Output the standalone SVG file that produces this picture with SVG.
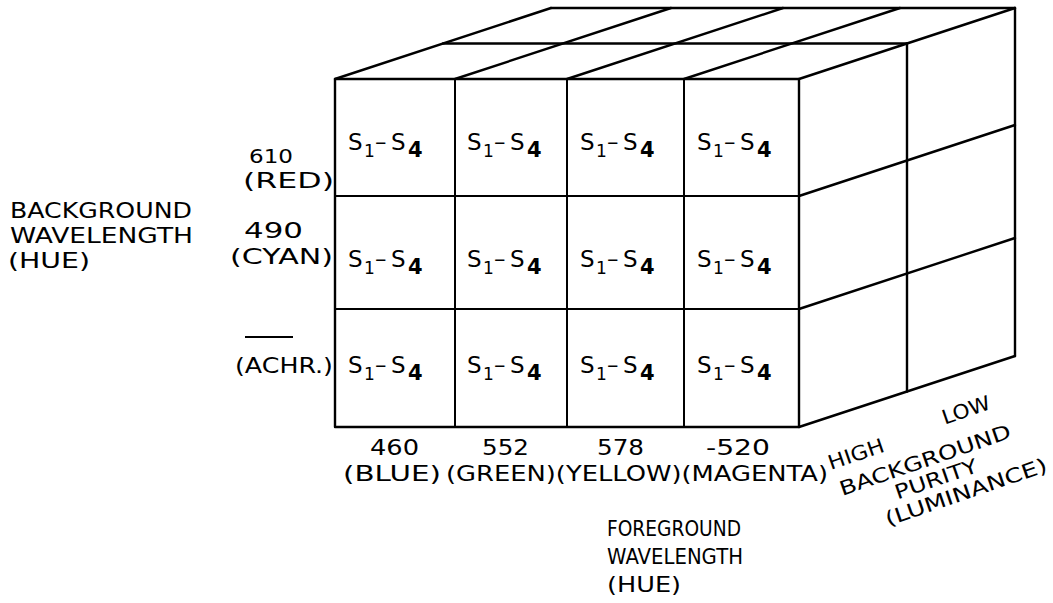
<svg xmlns="http://www.w3.org/2000/svg" width="1053" height="603" viewBox="0 0 1053 603">
  <style>
    .edge { stroke: #000; stroke-width: 2.4; fill: none; stroke-linecap: round; stroke-linejoin: round; }
    .cell { stroke: #000; stroke-width: 2; fill: none; }
    .lbl { font-family: "DejaVu Sans", "Liberation Sans", sans-serif; font-size: 22px; fill: #000; }
    .sm { font-size: 20px; }
    .s { font-family: "DejaVu Sans", "Liberation Sans", sans-serif; font-size: 23px; fill: #000; }
    .sub1 { font-size: 17px; }
    .sub4 { font-size: 21px; font-weight: bold; }
  </style>

  <rect width="1053" height="603" fill="#fff"/>

  <!-- top face of the block -->
  <g id="top-face" class="edge">
    <line x1="551" y1="8" x2="1015" y2="8"/>
    <line x1="443" y1="43.5" x2="907" y2="43.5"/>
    <line x1="335" y1="79" x2="551" y2="8"/>
    <line x1="455" y1="79" x2="671" y2="8"/>
    <line x1="567" y1="79" x2="783" y2="8"/>
    <line x1="684" y1="79" x2="900" y2="8"/>
    <line x1="799" y1="79" x2="1015" y2="8"/>
  </g>

  <!-- right face: purity levels -->
  <g id="side-face" class="edge">
    <line x1="907" y1="43.5" x2="907" y2="391.5"/>
    <line x1="1015" y1="8" x2="1015" y2="356"/>
    <line x1="799" y1="196" x2="1015" y2="125"/>
    <line x1="799" y1="309" x2="1015" y2="238"/>
    <line x1="799" y1="427" x2="1015" y2="356"/>
  </g>

  <!-- front face cells -->
  <g id="cell-r1-c1"><rect class="cell" x="335" y="79" width="120" height="117"/>
    <text class="s" y="150"><tspan x="348">S</tspan><tspan class="sub1" x="364" dy="7">1</tspan><tspan x="375" dy="-7">–</tspan><tspan x="391">S</tspan><tspan class="sub4" x="408" dy="7">4</tspan></text></g>
  <g id="cell-r1-c2"><rect class="cell" x="455" y="79" width="112" height="117"/>
    <text class="s" y="150"><tspan x="467">S</tspan><tspan class="sub1" x="483" dy="7">1</tspan><tspan x="494" dy="-7">–</tspan><tspan x="510">S</tspan><tspan class="sub4" x="527" dy="7">4</tspan></text></g>
  <g id="cell-r1-c3"><rect class="cell" x="567" y="79" width="117" height="117"/>
    <text class="s" y="150"><tspan x="580">S</tspan><tspan class="sub1" x="596" dy="7">1</tspan><tspan x="607" dy="-7">–</tspan><tspan x="623">S</tspan><tspan class="sub4" x="640" dy="7">4</tspan></text></g>
  <g id="cell-r1-c4"><rect class="cell" x="684" y="79" width="115" height="117"/>
    <text class="s" y="150"><tspan x="697">S</tspan><tspan class="sub1" x="713" dy="7">1</tspan><tspan x="724" dy="-7">–</tspan><tspan x="740">S</tspan><tspan class="sub4" x="757" dy="7">4</tspan></text></g>

  <g id="cell-r2-c1"><rect class="cell" x="335" y="196" width="120" height="113"/>
    <text class="s" y="267"><tspan x="348">S</tspan><tspan class="sub1" x="364" dy="7">1</tspan><tspan x="375" dy="-7">–</tspan><tspan x="391">S</tspan><tspan class="sub4" x="408" dy="7">4</tspan></text></g>
  <g id="cell-r2-c2"><rect class="cell" x="455" y="196" width="112" height="113"/>
    <text class="s" y="267"><tspan x="467">S</tspan><tspan class="sub1" x="483" dy="7">1</tspan><tspan x="494" dy="-7">–</tspan><tspan x="510">S</tspan><tspan class="sub4" x="527" dy="7">4</tspan></text></g>
  <g id="cell-r2-c3"><rect class="cell" x="567" y="196" width="117" height="113"/>
    <text class="s" y="267"><tspan x="580">S</tspan><tspan class="sub1" x="596" dy="7">1</tspan><tspan x="607" dy="-7">–</tspan><tspan x="623">S</tspan><tspan class="sub4" x="640" dy="7">4</tspan></text></g>
  <g id="cell-r2-c4"><rect class="cell" x="684" y="196" width="115" height="113"/>
    <text class="s" y="267"><tspan x="697">S</tspan><tspan class="sub1" x="713" dy="7">1</tspan><tspan x="724" dy="-7">–</tspan><tspan x="740">S</tspan><tspan class="sub4" x="757" dy="7">4</tspan></text></g>

  <g id="cell-r3-c1"><rect class="cell" x="335" y="309" width="120" height="118"/>
    <text class="s" y="373"><tspan x="348">S</tspan><tspan class="sub1" x="364" dy="7">1</tspan><tspan x="375" dy="-7">–</tspan><tspan x="391">S</tspan><tspan class="sub4" x="408" dy="7">4</tspan></text></g>
  <g id="cell-r3-c2"><rect class="cell" x="455" y="309" width="112" height="118"/>
    <text class="s" y="373"><tspan x="467">S</tspan><tspan class="sub1" x="483" dy="7">1</tspan><tspan x="494" dy="-7">–</tspan><tspan x="510">S</tspan><tspan class="sub4" x="527" dy="7">4</tspan></text></g>
  <g id="cell-r3-c3"><rect class="cell" x="567" y="309" width="117" height="118"/>
    <text class="s" y="373"><tspan x="580">S</tspan><tspan class="sub1" x="596" dy="7">1</tspan><tspan x="607" dy="-7">–</tspan><tspan x="623">S</tspan><tspan class="sub4" x="640" dy="7">4</tspan></text></g>
  <g id="cell-r3-c4"><rect class="cell" x="684" y="309" width="115" height="118"/>
    <text class="s" y="373"><tspan x="697">S</tspan><tspan class="sub1" x="713" dy="7">1</tspan><tspan x="724" dy="-7">–</tspan><tspan x="740">S</tspan><tspan class="sub4" x="757" dy="7">4</tspan></text></g>

  <!-- front outline, drawn over the cells -->
  <rect id="front-outline" class="edge" x="335" y="79" width="464" height="348"/>

  <!-- vertical axis: background wavelength -->
  <g id="axis-background-hue" class="lbl">
    <text x="10" y="218" textLength="182" lengthAdjust="spacingAndGlyphs">BACKGROUND</text>
    <text x="10" y="243" textLength="183" lengthAdjust="spacingAndGlyphs">WAVELENGTH</text>
    <text x="8" y="268" textLength="82" lengthAdjust="spacingAndGlyphs">(HUE)</text>
  </g>
  <g id="row-labels" class="lbl">
    <text x="249" y="163" font-size="20" textLength="44" lengthAdjust="spacingAndGlyphs">610</text>
    <text x="243" y="188" font-size="21" textLength="91" lengthAdjust="spacingAndGlyphs">(RED)</text>
    <text x="244" y="238" textLength="59" lengthAdjust="spacingAndGlyphs">490</text>
    <text x="230" y="264" textLength="103" lengthAdjust="spacingAndGlyphs">(CYAN)</text>
    <line x1="245" y1="337" x2="293" y2="337" stroke="#000" stroke-width="2"/>
    <text x="235" y="373" textLength="98" lengthAdjust="spacingAndGlyphs">(ACHR.)</text>
  </g>

  <!-- horizontal axis: foreground wavelength -->
  <g id="column-labels" class="lbl">
    <text x="370" y="455" textLength="49" lengthAdjust="spacingAndGlyphs">460</text>
    <text x="482" y="455" textLength="47" lengthAdjust="spacingAndGlyphs">552</text>
    <text x="597" y="455" textLength="47" lengthAdjust="spacingAndGlyphs">578</text>
    <text x="706" y="455" textLength="64" lengthAdjust="spacingAndGlyphs">-520</text>
    <text x="343" y="481" textLength="98" lengthAdjust="spacingAndGlyphs">(BLUE)</text>
    <text x="446" y="481" textLength="382" lengthAdjust="spacingAndGlyphs">(GREEN)(YELLOW)(MAGENTA)</text>
  </g>
  <g id="axis-foreground-hue" class="lbl">
    <text x="607" y="536" textLength="134" lengthAdjust="spacingAndGlyphs">FOREGROUND</text>
    <text x="607" y="564" textLength="136" lengthAdjust="spacingAndGlyphs">WAVELENGTH</text>
    <text x="607" y="592" textLength="74" lengthAdjust="spacingAndGlyphs">(HUE)</text>
  </g>

  <!-- depth axis: background purity, set along the receding edge -->
  <g id="axis-purity" class="lbl sm" text-anchor="middle">
    <text transform="translate(856,454) rotate(-19)" y="7" textLength="58" lengthAdjust="spacingAndGlyphs">HIGH</text>
    <text transform="translate(966,410) rotate(-19)" y="7" textLength="50" lengthAdjust="spacingAndGlyphs">LOW</text>
    <text transform="translate(925,460) rotate(-19)" y="7" textLength="180" lengthAdjust="spacingAndGlyphs">BACKGROUND</text>
    <text transform="translate(936,479) rotate(-19)" y="7" textLength="86" lengthAdjust="spacingAndGlyphs">PURITY</text>
    <text transform="translate(966,492) rotate(-19)" y="7" textLength="170" lengthAdjust="spacingAndGlyphs">(LUMINANCE)</text>
  </g>
</svg>
